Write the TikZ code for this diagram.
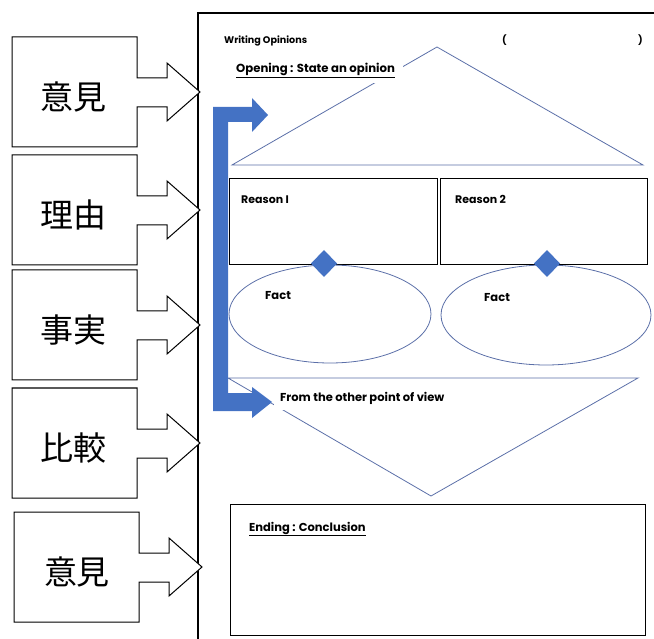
\documentclass[tikz,border=0pt]{standalone}
\usepackage{fontspec}
\setmainfont{Poppins}
\newfontfamily\cjk{Noto Sans CJK JP}
\definecolor{bblue}{HTML}{4472C4}
\definecolor{lineblue}{HTML}{5B6FA8}
\begin{document}
\begin{tikzpicture}[x=1pt,y=-1pt,
  callout/.style={draw=black,line width=1pt,fill=white},
  cjklabel/.style={font=\cjk\fontsize{33}{33}\selectfont,inner sep=0pt},
  thinline/.style={draw=lineblue,line width=0.8pt},
  boxline/.style={draw=black,line width=0.8pt},
  lbl/.style={inner sep=0pt,anchor=base west,font=\fontsize{11}{13}\selectfont\bfseries},
  whitelbl/.style={fill=white,inner xsep=6pt,inner ysep=5pt,anchor=base west,font=\fontsize{11.7}{13}\selectfont\bfseries},
  bluefill/.style={fill=bblue,draw=none}
]
\useasboundingbox (0,0) rectangle (654,639);
% page frame
\draw[line width=1.4pt] (198,639) -- (198,13) -- (654,13);

% left callout boxes
\foreach \t/\dx in {37/0, 155/0, 270/0, 388/0, 512/2}{
  \draw[callout] (12+\dx,\t) -- (137+\dx,\t) -- (137+\dx,\t+41) -- (167+\dx,\t+41) -- (167+\dx,\t+26)
    -- (200+\dx,\t+55) -- (167+\dx,\t+84) -- (167+\dx,\t+70) -- (137+\dx,\t+70)
    -- (137+\dx,\t+110) -- (12+\dx,\t+110) -- cycle;
}
\node[cjklabel] (l1) at (74,97) {意見};
\node[cjklabel] (l2) at (74,215) {理由};
\node[cjklabel] (l3) at (74,330) {事実};
\node[cjklabel] (l4) at (74,448) {比較};
\node[cjklabel] (l5) at (77,572) {意見};

% header
\node[lbl,font=\fontsize{9.6}{11}\selectfont\bfseries] (title) at (224,44) {Writing Opinions};
\node[lbl,font=\fontsize{9.6}{11}\selectfont\bfseries] (lp) at (502,44) {(};
\node[lbl,font=\fontsize{9.6}{11}\selectfont\bfseries] (rp) at (638,44) {)};

% upper triangle
\coordinate (ta) at (437,47);
\coordinate (tl) at (232,165);
\coordinate (tr) at (643,165);
\draw[thinline] (tl) -- (ta) -- (tr) -- cycle;
\node[whitelbl,inner xsep=8pt] (open) at (228,73) {\underline{Opening : State an opinion}};

% reason boxes
\draw[boxline] (229,178) rectangle (437,264);
\draw[boxline] (440,178) rectangle (647,264);
\node[lbl] (r1) at (241,204) {Reason I};
\node[lbl] (r2) at (455,204) {Reason 2};

% fact ellipses
\draw[thinline] (330,314) ellipse [x radius=101,y radius=49];
\draw[thinline] (546,315) ellipse [x radius=105,y radius=50];
\node[lbl,font=\fontsize{11.5}{13}\selectfont\bfseries] (f1) at (265,300) {Fact};
\node[lbl,font=\fontsize{11.5}{13}\selectfont\bfseries] (f2) at (484,302) {Fact};

% diamonds
\fill[bblue] (324,250) -- (337,263.5) -- (324,277) -- (311,263.5) -- cycle;
\fill[bblue] (547,250) -- (560,263.5) -- (547,277) -- (534,263.5) -- cycle;

% lower inverted triangle
\coordinate (ba) at (431,496);
\coordinate (bl) at (228,378);
\coordinate (br) at (638,378);
\draw[thinline] (bl) -- (br) -- (ba) -- cycle;
\node[whitelbl,font=\fontsize{11.5}{13}\selectfont\bfseries] (other) at (274,402) {From the other point of view};

% blue bracket arrow
\fill[bluefill] (213,107) -- (252,107) -- (252,98) -- (268,115) -- (252,132) -- (252,122)
  -- (228,122) -- (228,393) -- (252,393) -- (252,387) -- (272,402) -- (252,418) -- (252,411)
  -- (213,411) -- cycle;

% ending box
\draw[boxline] (230,504) rectangle (645,635);
\node[lbl,font=\fontsize{11.5}{13}\selectfont\bfseries] (ending) at (249,531) {\underline{Ending : Conclusion}};
\end{tikzpicture}
\end{document}
